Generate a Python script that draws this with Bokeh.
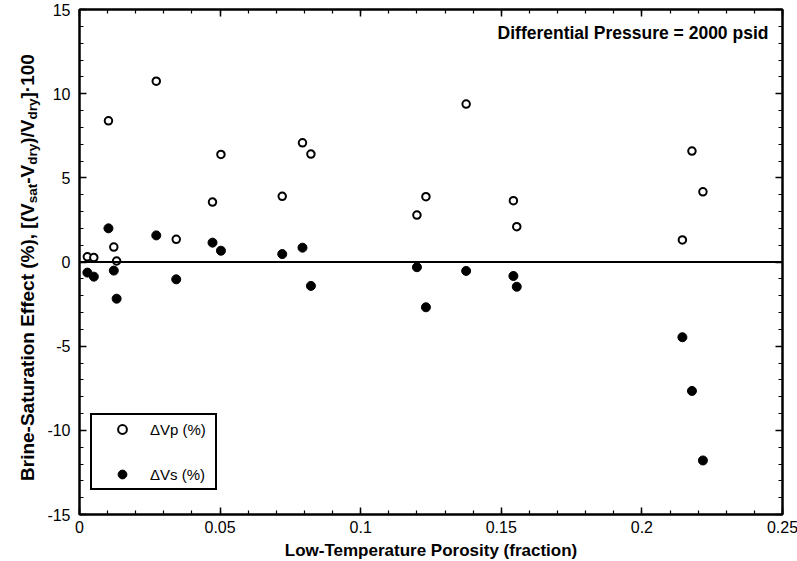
import numpy as np
from bokeh.plotting import figure
from bokeh.layouts import row
from bokeh.core.properties import value
from bokeh.models import (ColumnDataSource, LinearAxis, FixedTicker, CustomJSTickFormatter,
                          Span, Label, Legend, LegendItem, Range1d)
from bokeh.embed import file_html
from bokeh.resources import INLINE

# ---- data ----
porosity = [0.0028, 0.0051, 0.0103, 0.0122, 0.0132, 0.0273, 0.0344, 0.0473, 0.0503, 0.0721,
            0.0793, 0.0823, 0.1200, 0.1232, 0.1375, 0.1543, 0.1555, 0.2144, 0.2178, 0.2217]
dvp = [0.31, 0.26, 8.39, 0.89, 0.06, 10.74, 1.35, 3.56, 6.39, 3.90,
       7.08, 6.41, 2.79, 3.88, 9.38, 3.64, 2.10, 1.31, 6.59, 4.17]
dvs = [-0.63, -0.87, 2.00, -0.51, -2.18, 1.58, -1.03, 1.15, 0.67, 0.47,
       0.85, -1.42, -0.31, -2.69, -0.53, -0.83, -1.47, -4.47, -7.66, -11.79]

x_ticks = [0, 0.05, 0.1, 0.15, 0.2, 0.25]
y_ticks = [-15, -10, -5, 0, 5, 10, 15]
x_minor = [round(0.01 * i, 2) for i in range(26)]
y_minor = list(range(-15, 16))

legend_labels = ["\u0394Vp (%)", "\u0394Vs (%)"]
x_label = "Low-Temperature Porosity (fraction)"
note = "Differential Pressure = 2000 psid"
# y label pieces: (text, is_subscript)
y_label_pieces = [("Brine-Saturation Effect (%), [(V", False), ("sat", True), ("-V", False),
                  ("dry", True), (")/V", False), ("dry", True), ("]\u00b7100", False)]

FONT = "Liberation Sans"
FW, FH = 703, 505
TOP, BOTTOM = 9, 45
LABW = 44

src = ColumnDataSource(dict(x=porosity, vp=dvp, vs=dvs))

p = figure(frame_width=FW, frame_height=FH,
           x_range=Range1d(0, 0.25), y_range=Range1d(-15, 15),
           output_backend="svg", toolbar_location=None,
           min_border_left=32, min_border_right=16, min_border_top=TOP, min_border_bottom=BOTTOM,
           background_fill_color="white", border_fill_color="white")
p.xgrid.visible = False
p.ygrid.visible = False
p.outline_line_color = "black"
p.outline_line_width = 2

fmt = CustomJSTickFormatter(code="return tick.toString();")
blank = CustomJSTickFormatter(code="return '';")

def style_axis(ax, ticks, minor, labels=True):
    ax.ticker = FixedTicker(ticks=ticks, minor_ticks=minor)
    ax.major_tick_in = 7
    ax.major_tick_out = 0
    ax.minor_tick_in = 4
    ax.minor_tick_out = 0
    ax.axis_line_width = 2
    ax.axis_line_color = "black"
    ax.major_tick_line_width = 1.5
    ax.minor_tick_line_width = 1.2
    ax.major_tick_line_color = "black"
    ax.minor_tick_line_color = "black"
    ax.major_label_text_font = FONT
    ax.major_label_text_font_size = "16px"
    ax.major_label_text_color = "black"
    if labels:
        ax.formatter = fmt
    else:
        ax.formatter = blank
        ax.major_label_standoff = 0

xa = p.xaxis[0]
style_axis(xa, x_ticks, x_minor)
xa.major_label_standoff = 6
xa.axis_label = x_label
xa.axis_label_text_font = FONT
xa.axis_label_text_font_style = "bold"
xa.axis_label_text_font_size = "17px"
xa.axis_label_text_color = "black"
xa.axis_label_standoff = 5

ya = p.yaxis[0]
style_axis(ya, y_ticks, y_minor)
ya.major_label_standoff = 9

top = LinearAxis()
style_axis(top, x_ticks, x_minor, labels=False)
p.add_layout(top, "above")
right = LinearAxis()
style_axis(right, y_ticks, y_minor, labels=False)
p.add_layout(right, "right")

p.add_layout(Span(location=0, dimension="width", line_color="black", line_width=2))

r_p = p.scatter(x="x", y="vp", source=src, marker="circle", size=7.5,
                fill_color="white", line_color="black", line_width=2)
r_s = p.scatter(x="x", y="vs", source=src, marker="circle", size=9,
                fill_color="black", line_color="black", line_width=1)

legend = Legend(items=[LegendItem(label=legend_labels[0], renderers=[r_p]),
                       LegendItem(label=legend_labels[1], renderers=[r_s])],
                location=(11, 24), margin=0, padding=3, spacing=23,
                glyph_width=54, glyph_height=22, label_height=22, label_width=62,
                label_standoff=1, border_line_color="black", border_line_width=2,
                border_line_alpha=1.0,
                background_fill_color="white", background_fill_alpha=1,
                label_text_font=FONT, label_text_font_size="15px", label_text_color="black")
p.add_layout(legend)

# note in the upper right
p.add_layout(Label(x=0.245, y=13.62, text=note, text_align="right", text_baseline="middle",
                   text_font=FONT, text_font_style="bold", text_font_size="17.5px",
                   text_color="black"))

# ---- y-axis label with subscripts, in a narrow figure on the left ----
W = {' ': 278, 'B': 722, 'r': 389, 'i': 278, 'n': 611, 'e': 556, '-': 333, 'S': 667, 'a': 556,
     't': 333, 'u': 611, 'o': 611, 'E': 667, 'f': 333, 'c': 556, '(': 333, '%': 889, ')': 333,
     ',': 278, '[': 333, 'V': 667, 's': 556, 'd': 611, 'y': 556, '/': 278, ']': 333,
     '\u00b7': 333, '1': 556, '0': 556}
MAIN, SUB = 19, 13.5

def width(s, size):
    return sum(W.get(c, 556) for c in s) * size / 1000.0

lab = figure(frame_width=LABW, frame_height=FH, x_range=Range1d(0, LABW), y_range=Range1d(-15, 15),
             x_axis_type=None, y_axis_type=None, toolbar_location=None, output_backend="svg",
             min_border_left=0, min_border_right=0, min_border_top=TOP, min_border_bottom=BOTTOM,
             outline_line_color=None, background_fill_color="white", border_fill_color="white")
lab.grid.visible = False

px_per_y = FH / 30.0
total = sum(width(s, SUB if sub else MAIN) for s, sub in y_label_pieces)
center_y = -0.33
pos = center_y - (total / 2) / px_per_y
mx, my, mt, sx, sy, st = [], [], [], [], [], []
for s, sub in y_label_pieces:
    if sub:
        sx.append(31.5); sy.append(pos); st.append(s)
        pos += width(s, SUB) / px_per_y
    else:
        mx.append(27); my.append(pos); mt.append(s)
        pos += width(s, MAIN) / px_per_y
lab.text(x=mx, y=my, text=mt, angle=np.pi / 2, text_align="left", text_baseline="alphabetic",
         text_font=value(FONT), text_font_style="bold", text_font_size=f"{MAIN}px", text_color="black")
lab.text(x=sx, y=sy, text=st, angle=np.pi / 2, text_align="left", text_baseline="alphabetic",
         text_font=value(FONT), text_font_style="bold", text_font_size=f"{SUB}px", text_color="black")

layout = row(lab, p, spacing=0)
open("out.html", "w").write(file_html(layout, INLINE))
